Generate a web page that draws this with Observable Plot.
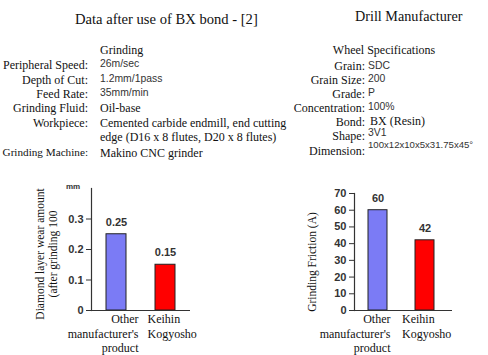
<!DOCTYPE html>
<html>
<head>
<meta charset="utf-8">
<script src="https://cdn.jsdelivr.net/npm/d3@7"></script>
<script src="https://cdn.jsdelivr.net/npm/@observablehq/plot@0.6"></script>
<style>
  html, body { margin: 0; padding: 0; background: #fff; }
  #root { position: relative; width: 488px; height: 355px; overflow: hidden; background: #fff; }
  .t { position: absolute; white-space: nowrap; font-family: "Liberation Serif", "Times New Roman", serif; font-size: 12px; color: #111; transform: translateY(-50%); line-height: 1; }
  .s { font-family: "Liberation Sans", Arial, sans-serif; font-size: 10.4px; color: #333; }
  .chart { position: absolute; }
  .ytitle { position: absolute; white-space: nowrap; font-family: "Liberation Serif", "Times New Roman", serif; font-size: 11.5px; line-height: 13px; color: #111; text-align: center; transform: translate(-50%, -50%) rotate(-90deg); }
</style>
</head>
<body>
<div id="root"></div>
<script>
// ---- data ----
const categories = ["Other manufacturer's product", "Keihin Kogyosho"];
const categoryLabels = ["Other\nmanufacturer's\nproduct", "Keihin\nKogyosho"];
const barColors = ["#7b7bf5", "#ff0000"];
const wearValues = [0.25, 0.15];
const wearTicks = [0, 0.1, 0.2, 0.3];
const frictionValues = [60, 42];
const frictionTicks = [0, 10, 20, 30, 40, 50, 60, 70];

const title = "Data after use of BX bond - [2]";
const subtitle = "Drill Manufacturer";
const grindingHeader = "Grinding";
const grindingLabels = ["Peripheral Speed:", "Depth of Cut:", "Feed Rate:", "Grinding Fluid:", "Workpiece:", "", "Grinding Machine:"];
const grindingValues = ["26m/sec", "1.2mm/1pass", "35mm/min", "Oil-base", "Cemented carbide endmill, end cutting", "edge (D16 x 8 flutes, D20 x 8 flutes)", "Makino CNC grinder"];
const wheelHeader = "Wheel Specifications";
const wheelLabels = ["Grain:", "Grain Size:", "Grade:", "Concentration:", "Bond:", "Shape:", "Dimension:"];
const wheelValues = ["SDC", "200", "P", "100%", "BX (Resin)", "3V1", "100x12x10x5x31.75x45°"];

const root = document.getElementById("root");
function addText(txt, x, y, cls, align) {
  const d = document.createElement("div");
  d.className = "t " + (cls || "");
  d.textContent = txt;
  d.style.top = y + "px";
  if (align === "right") { d.style.right = (488 - x) + "px"; d.style.textAlign = "right"; }
  else if (align === "center") { d.style.left = x + "px"; d.style.transform = "translate(-50%,-50%)"; }
  else d.style.left = x + "px";
  root.appendChild(d);
  return d;
}

// titles
const tEl = addText(title, 75, 19);
tEl.style.fontSize = "14.6px";
const sEl = addText(subtitle, 355, 16);
sEl.style.fontSize = "14.2px";

// grinding table
addText(grindingHeader, 100, 50);
const gRowY = [65, 80, 94, 108, 123, 137, 153];
const gSans = [true, true, true, false, false, false, false];
grindingLabels.forEach((l, i) => {
  if (!l) return;
  const el = addText(l, 88, gRowY[i], "", "right");
  if (i === 6) el.style.fontSize = "11.2px";
});
grindingValues.forEach((v, i) => addText(v, 100, gRowY[i] - (gSans[i] ? 1 : 0), gSans[i] ? "s" : ""));

// wheel table
addText(wheelHeader, 384, 50, "", "center");
const wLabelY = [66, 80, 94, 108, 122, 136, 151];
const wValueY = [66, 79, 93, 107, 120.5, 133, 145];
const wSans = [true, true, true, true, false, true, true];
wheelLabels.forEach((l, i) => addText(l, 365, wLabelY[i], "", "right"));
wheelValues.forEach((v, i) => {
  const el = addText(v, i === 4 ? 370 : 368, wValueY[i], wSans[i] ? "s" : "");
  if (i === 6) el.style.fontSize = "9.6px";
});

// ---- charts ----
function barChart(values, ticks, domainMax, opts) {
  const rows = categories.map((c, i) => ({cat: c, label: categoryLabels[i], value: values[i], color: barColors[i]}));
  const labelStyle = {x: "cat", text: "label", frameAnchor: "bottom", lineAnchor: "top", dy: 3, fontSize: 12, lineHeight: 1.17, fontFamily: "Liberation Serif, Times New Roman, serif", fill: "#111"};
  return Plot.plot({
    width: opts.width,
    height: 185,
    marginLeft: opts.marginLeft,
    marginRight: opts.marginRight,
    marginTop: opts.marginTop,
    marginBottom: 45,
    style: {background: "transparent", fontFamily: "Liberation Sans, Arial, sans-serif"},
    x: {type: "band", domain: categories, paddingInner: 0.6, paddingOuter: 0.3, insetRight: opts.insetRight || 0, axis: null},
    y: {domain: [0, domainMax], axis: null},
    marks: [
      Plot.barY(rows, {x: "cat", y: "value", fill: "color", stroke: "#222", strokeWidth: 1}),
      Plot.text(rows, {x: "cat", y: "value", text: d => opts.fmt(d.value), dy: -12, fontSize: 11, fontWeight: "bold", fill: "#333"}),
      Plot.axisY({ticks: ticks, tickSize: 5, tickFormat: opts.tickFmt, label: null, fontSize: 11, fontWeight: "bold", tickPadding: 3, stroke: "#333", fill: "#333"}),
      Plot.ruleY([0], {stroke: "#333", strokeWidth: 1.2}),
      Plot.frame({anchor: "left", stroke: "#333", strokeWidth: 1.2}),
      Plot.text(rows.slice(0, 1), {...labelStyle, textAnchor: "end", dx: opts.dx0}),
      Plot.text(rows.slice(1), {...labelStyle, textAnchor: "start", dx: opts.dx1})
    ]
  });
}

const left = barChart(wearValues, wearTicks, 0.4, {
  width: 200, marginLeft: 91, marginRight: 10, marginTop: 18,
  fmt: d3.format(".2f"), tickFmt: d => d === 0 ? "0" : d3.format(".1f")(d), dx0: 22, dx1: -18
});
left.classList.add("chart");
left.style.left = "0px"; left.style.top = "170px";
root.appendChild(left);

const right = barChart(frictionValues, frictionTicks, 70, {
  width: 220, marginLeft: 94, marginRight: 28, marginTop: 23, insetRight: 4,
  fmt: d => String(d), tickFmt: d => String(d), dx0: 12.5, dx1: -23
});
right.classList.add("chart");
right.style.left = "260px"; right.style.top = "170px";
root.appendChild(right);

// axis unit and y titles
const mm = document.createElement("div");
mm.className = "t s";
mm.textContent = "mm";
mm.style.fontSize = "8px"; mm.style.fontWeight = "bold"; mm.style.left = "66px"; mm.style.top = "187px";
root.appendChild(mm);

function yTitle(txt, cx, cy) {
  const d = document.createElement("div");
  d.className = "ytitle";
  d.innerText = txt;
  d.style.left = cx + "px"; d.style.top = cy + "px";
  root.appendChild(d);
}
yTitle("Diamond layer wear amount\n(after grinding 100", 47, 254);
yTitle("Grinding Friction (A)", 312, 262);
</script>
</body>
</html>
